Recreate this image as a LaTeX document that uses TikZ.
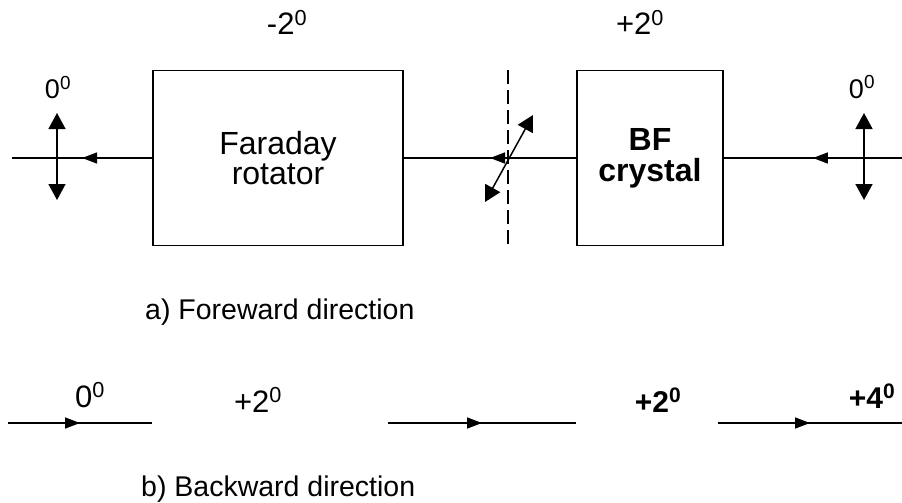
\documentclass[tikz,border=0pt]{standalone}
\usepackage{fontspec}
\setmainfont{Liberation Sans}
\usetikzlibrary{
    arrows.meta,
    positioning,
    decorations.markings
}
\tikzstyle{blockbox} = [
    rectangle,
    draw=black,
    line width=1.6pt,
    align=center,
    inner sep=0pt,
    font=\fontsize{32}{30}\selectfont
]
\tikzstyle{beam} = [
    line width=1.5pt,
    draw=black,
    postaction={decorate},
    decoration={markings, mark=at position 0.5 with {\arrow{Triangle[length=15pt,width=11pt]}}}
]
\tikzstyle{polar} = [
    line width=1.5pt,
    {Triangle[length=16pt,width=17pt]}-{Triangle[length=16pt,width=17pt]}
]
\tikzstyle{anglelabel} = [
    anchor=base,
    inner sep=0pt,
    font=\fontsize{31}{32}\selectfont
]
\tikzstyle{caption} = [
    anchor=base west,
    inner sep=0pt,
    font=\fontsize{28.5}{32}\selectfont
]

\begin{document}
\begin{tikzpicture}[x=1pt, y=-1pt]
        \useasboundingbox (0,0) rectangle (902,503);

        % a) Foreward direction
        \node[blockbox, minimum width=250pt, minimum height=175pt] (faraday) at (278,158) {Faraday\\rotator};
        \node[blockbox, minimum width=146pt, minimum height=175pt, font=\fontsize{32}{31}\selectfont\bfseries] (bf) at (650,158) {BF\\crystal};
        \coordinate (inleft) at (12,158);
        \coordinate (inright) at (902,158);

        % Beams
        \draw[beam] (inright) -- (bf.east);
        \draw[beam] (bf.west) -- (faraday.east);
        \draw[beam] (faraday.west) -- (inleft);

        % Polarization
        \coordinate (pl-top) at (57,113);
        \coordinate (pl-bot) at (57,200);
        \coordinate (pr-top) at (864,113);
        \coordinate (pr-bot) at (864,200);
        \coordinate (pm-top) at (533,115);
        \coordinate (pm-bot) at (485,202);
        \draw[polar] (pl-bot) -- (pl-top);
        \draw[polar] (pr-bot) -- (pr-top);
        \draw[polar] (pm-bot) -- (pm-top);

        % Cut plane
        \coordinate (cut-top) at (508,70);
        \coordinate (cut-bot) at (508,245);
        \draw[line width=1.5pt, dash pattern=on 14pt off 6pt] (cut-top) -- (cut-bot);

        % Angles
        \node[anglelabel] (ang-fr) at (287,35) {-2\textsuperscript{0}};
        \node[anglelabel] (ang-bf) at (640,35) {+2\textsuperscript{0}};
        \node[anglelabel, font=\fontsize{27}{28}\selectfont] (ang-l) at (58,99) {0\textsuperscript{0}};
        \node[anglelabel, font=\fontsize{27}{28}\selectfont] (ang-r) at (862,98) {0\textsuperscript{0}};
        \node[caption] (cap-a) at (145,319) {a) Foreward direction};

        % b) Backward direction
        \coordinate (b1s) at (8,423);
        \coordinate (b1e) at (152,423);
        \coordinate (b2s) at (388,423);
        \coordinate (b2e) at (576,423);
        \coordinate (b3s) at (718,423);
        \coordinate (b3e) at (902,423);
        \draw[beam] (b1s) -- (b1e);
        \draw[beam] (b2s) -- (b2e);
        \draw[beam] (b3s) -- (b3e);

        \node[anglelabel] (bang-a) at (90,407) {0\textsuperscript{0}};
        \node[anglelabel] (bang-b) at (258,412) {+2\textsuperscript{0}};
        \node[anglelabel, font=\fontsize{30}{32}\selectfont\bfseries] (bang-c) at (658,412) {+2\textsuperscript{0}};
        \node[anglelabel, font=\fontsize{30}{32}\selectfont\bfseries] (bang-d) at (872,408) {+4\textsuperscript{0}};
        \node[caption] (cap-b) at (141,496) {b) Backward direction};
    \end{tikzpicture}
\end{document}
